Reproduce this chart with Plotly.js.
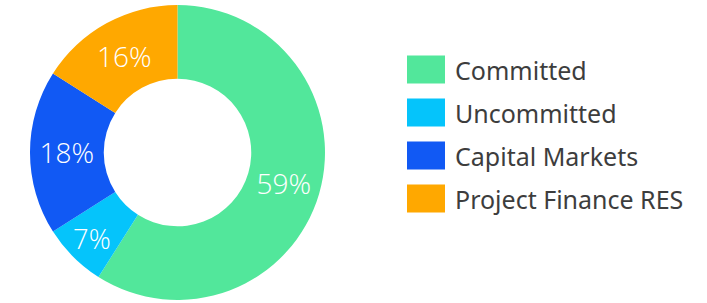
<!DOCTYPE html>
<html><head><meta charset="utf-8">
<script src="https://cdn.plot.ly/plotly-3.0.1.min.js"></script>
<style>html,body{margin:0;padding:0;background:#fff}#chart{width:707px;height:303px}</style>
</head><body><div id="chart"></div>
<script>
const categories = ["Committed", "Uncommitted", "Capital Markets", "Project Finance RES"];
const values = [59, 7, 18, 16];
const colors = ["#52E79B", "#05C4FB", "#1159F4", "#FFA800"];

const trace = {
  type: "pie",
  labels: categories,
  values: values,
  hole: 0.5,
  sort: false,
  direction: "clockwise",
  rotation: 0,
  marker: {colors: colors, line: {width: 0}},
  textinfo: "percent",
  texttemplate: "%{percent:.0%}",
  textposition: "inside",
  insidetextorientation: "horizontal",
  textfont: {family: "Open Sans, sans-serif", size: 28, color: "#ffffff", weight: 300},
  domain: {x: [0.0424, 0.4597], y: [0.0099, 0.9835]},
  hoverinfo: "label+percent",
  showlegend: false
};

const shapes = [];
const annotations = [];
const rowY0 = 69.5, rowStep = 43;
categories.forEach((c, i) => {
  const cy = rowY0 + i * rowStep;
  shapes.push({type: "rect", xref: "paper", yref: "paper",
    x0: 407/707, x1: 445/707, y0: 1 - (cy + 14)/303, y1: 1 - (cy - 14)/303,
    fillcolor: colors[i], line: {width: 0}});
  annotations.push({xref: "paper", yref: "paper", x: 453/707, y: 1 - cy/303,
    xanchor: "left", yanchor: "middle", text: c, showarrow: false,
    font: {family: "Noto Sans, sans-serif", size: 25, color: "#3d3d3d"}});
});

Plotly.newPlot("chart", [trace], {
  width: 707, height: 303,
  margin: {l: 0, r: 0, t: 0, b: 0},
  paper_bgcolor: "#ffffff",
  showlegend: false,
  shapes: shapes,
  annotations: annotations
}, {displayModeBar: false, staticPlot: true});
</script></body></html>
